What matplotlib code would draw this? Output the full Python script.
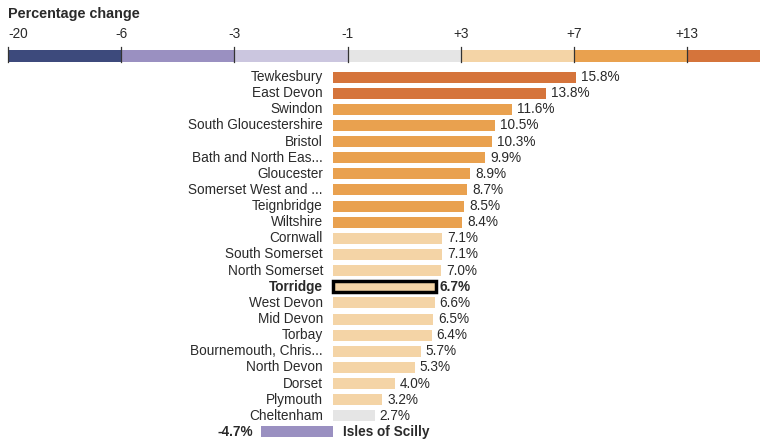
import numpy as np
import matplotlib.pyplot as plt

plt.rcParams['font.family'] = ['Liberation Sans', 'DejaVu Sans']

# data
areas = ["Tewkesbury", "East Devon", "Swindon", "South Gloucestershire", "Bristol",
         "Bath and North Eas...", "Gloucester", "Somerset West and ...", "Teignbridge",
         "Wiltshire", "Cornwall", "South Somerset", "North Somerset", "Torridge",
         "West Devon", "Mid Devon", "Torbay", "Bournemouth, Chris...", "North Devon",
         "Dorset", "Plymouth", "Cheltenham", "Isles of Scilly"]
change = [15.8, 13.8, 11.6, 10.5, 10.3, 9.9, 8.9, 8.7, 8.5, 8.4, 7.1, 7.1, 7.0, 6.7,
          6.6, 6.5, 6.4, 5.7, 5.3, 4.0, 3.2, 2.7, -4.7]
highlight = "Torridge"

legend_labels = ["-20", "-6", "-3", "-1", "+3", "+7", "+13"]
# colour bins (upper edges); Cornwall/South Somerset are drawn in the lighter band
bin_edges = [-6, -3, -1, 3, 7.15, 13]
band_colors = ["#3d4a7c", "#9a90c1", "#cbc6df", "#e5e5e5", "#f4d4a6", "#e9a14f", "#d5743b"]
txt = "#2a2a2a"

fig = plt.figure(figsize=(7.6, 4.43), dpi=100)
W, H = 760, 443


def px_axes(x0, y0, x1, y1):
    return fig.add_axes([x0 / W, 1 - y1 / H, (x1 - x0) / W, (y1 - y0) / H])


# ---- legend colour scale
lax = px_axes(8, 50, 760, 62)
for i, c in enumerate(band_colors):
    lax.barh(0, 1, left=i, height=1, color=c, edgecolor="none")
lax.set_xlim(0, (760 - 8) / 113.2)
lax.set_ylim(-0.5, 0.5)
lax.axis("off")
for i, lab in enumerate(legend_labels):
    lax.plot([i, i], [-0.5, 0.75], color="#333333", lw=0.9, clip_on=False)
    lax.text(i, 1.25, lab, ha="center" if i else "left", va="bottom",
             fontsize=9.8, color=txt, clip_on=False)
fig.text(8 / W, 1 - 14 / H, "Percentage change", fontsize=10.4, fontweight="bold",
         color=txt, va="center", ha="left")

# ---- bars
zero_px, scale = 333, 15.4
ax = px_axes(0, 68, 760, 443)
ax.set_xlim(-zero_px / scale, (W - zero_px) / scale)
ax.set_ylim(22 + 11 / 16.1, -9 / 16.1)
ax.axis("off")

y = np.arange(len(areas))
colors = [band_colors[np.digitize(v, bin_edges)] for v in change]
bars = ax.barh(y, change, height=0.68, color=colors, edgecolor="none")

gap = 10 / scale
for yi, name, v, b in zip(y, areas, change, bars):
    bold = name == highlight or v < 0
    fw = "bold" if bold else "normal"
    pad = 5 / scale
    if name == highlight:
        b.set_edgecolor("black")
        b.set_linewidth(2.5)
        pad = 3 / scale
    if v >= 0:
        ax.text(-gap, yi, name, ha="right", va="center", fontsize=9.8,
                color=txt, fontweight=fw)
        ax.text(v + pad, yi, f"{v:.1f}%", ha="left", va="center",
                fontsize=9.8, color=txt, fontweight=fw)
    else:
        ax.text(gap, yi, name, ha="left", va="center", fontsize=9.8,
                color=txt, fontweight=fw)
        ax.text(v - 7 / scale, yi, f"{v:.1f}%", ha="right", va="center",
                fontsize=9.8, color=txt, fontweight=fw)

fig.savefig("out.png", dpi=100)
